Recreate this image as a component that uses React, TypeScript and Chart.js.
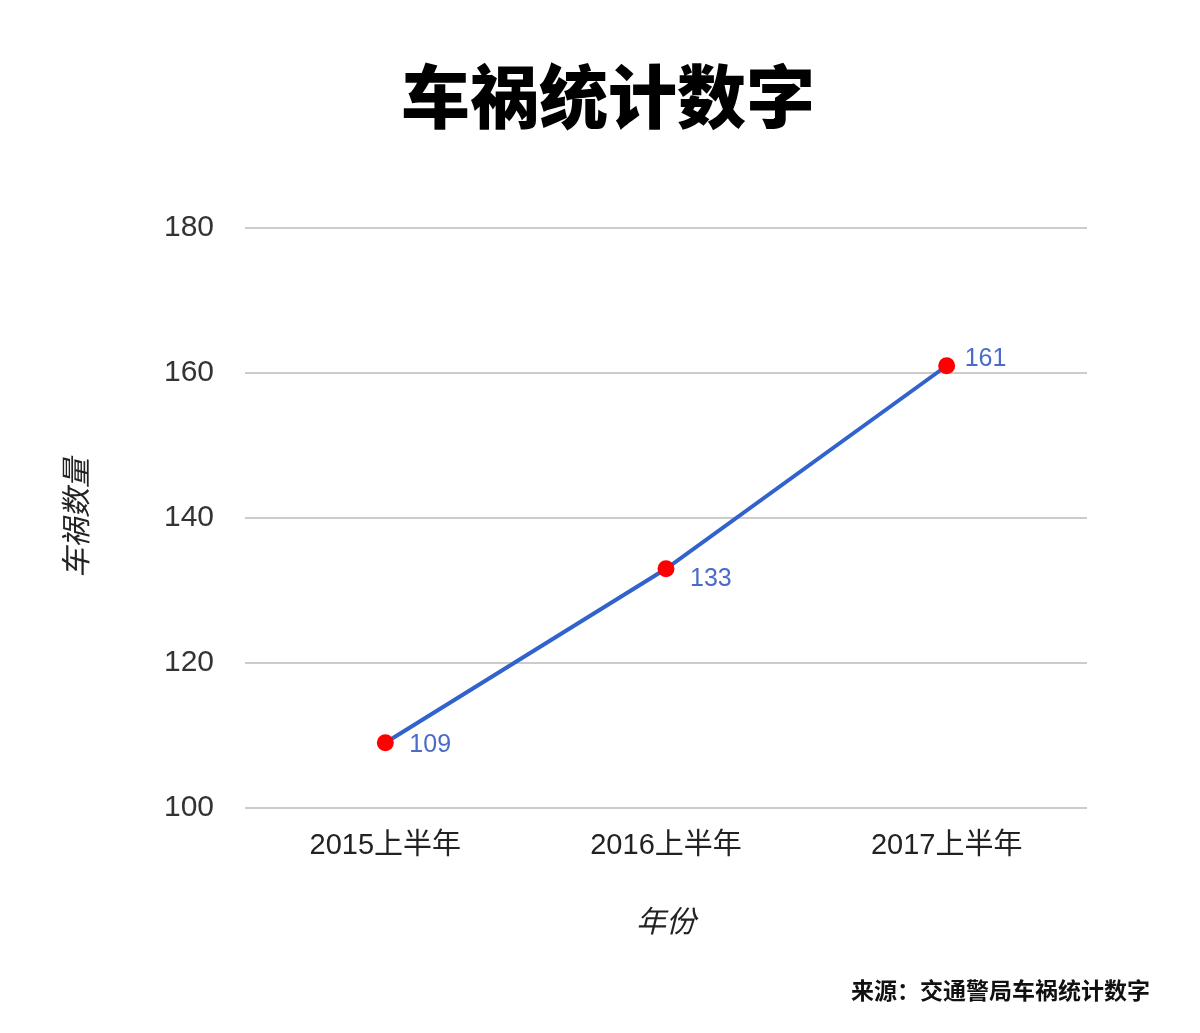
import React, { useEffect, useRef } from "react";
import { Chart, registerables } from "chart.js";

Chart.register(...registerables);

const categories = ["2015上半年", "2016上半年", "2017上半年"];
const accidents = [109, 133, 161];
const yTicks = [100, 120, 140, 160, 180];
const titleText = "车祸统计数字";
const yTitle = "车祸数量";
const xTitle = "年份";
const sourceText = "来源：交通警局车祸统计数字";
const labelDx = [24, 24, 18];
const labelDy = [2, 10, -7];

const FONT = '"Liberation Sans", "Noto Sans CJK SC", sans-serif';
const CJK = '"Noto Sans CJK SC", "Liberation Sans", sans-serif';

const valueLabels = {
  id: "valueLabels",
  afterDatasetsDraw(chart: any) {
    const ctx = chart.ctx;
    const meta = chart.getDatasetMeta(0);
    ctx.save();
    ctx.font = `25px ${FONT}`;
    ctx.fillStyle = "#4a6cc8";
    ctx.textAlign = "left";
    ctx.textBaseline = "middle";
    meta.data.forEach((pt: any, i: number) => {
      ctx.fillText(String(accidents[i]), pt.x + labelDx[i], pt.y + labelDy[i]);
    });
    ctx.restore();
  },
};

const textPlugin = {
  id: "textDecor",
  afterDraw(chart: any) {
    const ctx = chart.ctx;
    ctx.save();
    ctx.font = `900 69px ${CJK}`;
    ctx.fillStyle = "#000";
    ctx.textAlign = "center";
    ctx.textBaseline = "middle";
    ctx.fillText(titleText, chart.width / 2 + 8, 97);

    ctx.font = `bold 23px ${CJK}`;
    ctx.fillStyle = "#111";
    ctx.textAlign = "right";
    ctx.fillText(sourceText, chart.width - 50, 990);
    ctx.restore();
  },
};

export default function App() {
  const ref = useRef<HTMLCanvasElement | null>(null);

  useEffect(() => {
    document.body.style.margin = "0";
    if (!ref.current) return;
    const chart = new Chart(ref.current, {
      type: "line",
      data: {
        labels: categories,
        datasets: [
          {
            data: accidents,
            borderColor: "#3263cc",
            borderWidth: 4,
            pointBackgroundColor: "#ff0000",
            pointBorderWidth: 0,
            pointRadius: 8.5,
            tension: 0,
            fill: false,
          },
        ],
      },
      options: {
        animation: false,
        responsive: false,
        layout: { padding: { left: 54, right: 113, top: 228, bottom: 90 } },
        plugins: {
          legend: { display: false },
          tooltip: { enabled: false },
          title: { display: false },
        },
        scales: {
          x: {
            offset: true,
            grid: { display: false, drawTicks: false },
            border: { display: false },
            ticks: { color: "#222", font: { family: FONT, size: 29 }, padding: 21 },
            title: {
              display: true,
              text: xTitle,
              color: "#222",
              font: { family: CJK, size: 30, style: "italic" },
              padding: 4,
            },
            afterFit(scale: any) {
              scale.height = 135;
            },
          },
          y: {
            min: 100,
            max: 180,
            grid: { color: "#cccccc", lineWidth: 2, drawTicks: false },
            border: { display: false },
            afterBuildTicks(scale: any) {
              scale.ticks = yTicks.map((v) => ({ value: v }));
            },
            ticks: { color: "#333", font: { family: FONT, size: 30 }, padding: 31 },
            title: {
              display: true,
              text: yTitle,
              color: "#222",
              font: { family: CJK, size: 30, style: "italic" },
              padding: 4,
            },
            afterFit(scale: any) {
              scale.width = 191;
            },
          },
        },
      },
      plugins: [valueLabels, textPlugin],
    });
    return () => chart.destroy();
  }, []);

  return (
    <div style={{ position: "absolute", left: 0, top: 0, width: 1200, height: 1033, background: "#fff" }}>
      <canvas ref={ref} width={1200} height={1033} />
    </div>
  );
}
